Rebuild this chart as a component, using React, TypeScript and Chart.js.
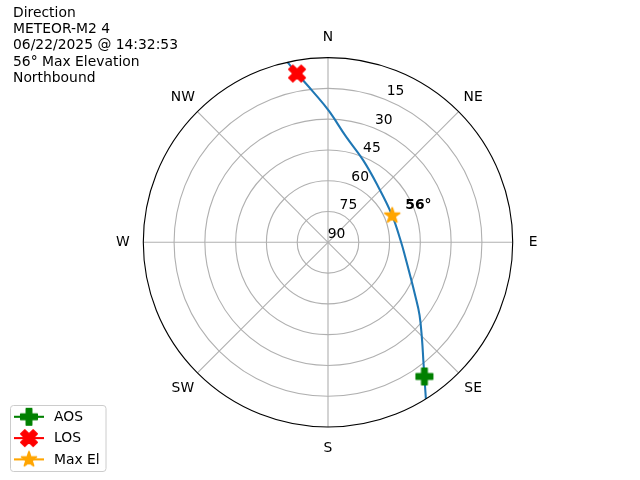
import React, { useEffect, useRef } from "react";
import { Chart, registerables } from "chart.js";
Chart.register(...registerables);

const titleLines = ["Direction", "METEOR-M2 4", "06/22/2025 @ 14:32:53", "56° Max Elevation", "Northbound"];
const compassLabels = ["N", "NE", "E", "SE", "S", "SW", "W", "NW"];
const compassAngles = [0, 45, 90, 135, 180, 225, 270, 315];
const ringZenith = [0, 15, 30, 45, 60, 75];
const ringLabels = ["90", "75", "60", "45", "30", "15"];

// pass track (azimuth deg, elevation deg), AOS side first
const trackAz = [148.0, 144.3, 141.0, 136.1, 128.5, 121.2, 111.7, 100.1, 89.8, 67.4, 42.1, 23.0, 9.7, 0.4, 354.3, 349.6, 347.3];
const trackEl = [0.0, 9.5, 16.2, 23.9, 33.0, 40.4, 47.0, 51.9, 54.4, 56.1, 53.5, 46.4, 37.8, 26.0, 16.2, 6.4, 0.0];

const aosAz = 144.3, aosEl = 9.5;
const losAz = 349.6, losEl = 6.4;
const maxAz = 67.4, maxEl = 56.1;
const maxElLabel = "56°";

const legendLabels = ["AOS", "LOS", "Max El"];
const legendColors = ["#008000", "#ff0000", "#ffa500"];

function toXY(az: number, el: number) {
  const r = 90 - el;
  const a = (az * Math.PI) / 180;
  return { x: r * Math.sin(a), y: r * Math.cos(a) };
}

const S = 16.67;
const EW = 1.39;

function makeMarker(kind: string, color: string) {
  const c = document.createElement("canvas");
  c.width = 24;
  c.height = 24;
  const ctx = c.getContext("2d")!;
  ctx.translate(12, 12);
  ctx.fillStyle = color;
  ctx.strokeStyle = color;
  ctx.lineWidth = EW;
  let pts: number[][] = [];
  if (kind === "plus") {
    const u = S / 6;
    pts = [[-1, -3], [1, -3], [1, -1], [3, -1], [3, 1], [1, 1], [1, 3], [-1, 3], [-1, 1], [-3, 1], [-3, -1], [-1, -1]].map((p) => [p[0] * u, p[1] * u]);
    ctx.lineJoin = "round";
  } else if (kind === "x") {
    const u = S / 4;
    pts = [[-1, -2], [0, -1], [1, -2], [2, -1], [1, 0], [2, 1], [1, 2], [0, 1], [-1, 2], [-2, 1], [-1, 0], [-2, -1]].map((p) => [p[0] * u, p[1] * u]);
    ctx.lineJoin = "round";
  } else {
    const R = S / 2;
    const ri = R * 0.381966;
    for (let i = 0; i < 10; i++) {
      const rr = i % 2 === 0 ? R : ri;
      const a = (i * Math.PI) / 5;
      pts.push([rr * Math.sin(a), -rr * Math.cos(a)]);
    }
    ctx.lineJoin = "bevel";
  }
  ctx.beginPath();
  pts.forEach((p, i) => (i === 0 ? ctx.moveTo(p[0], p[1]) : ctx.lineTo(p[0], p[1])));
  ctx.closePath();
  ctx.fill();
  ctx.stroke();
  return c;
}

const FONT = "'DejaVu Sans', sans-serif";
const FS = "13.89px";

export default function App() {
  const ref = useRef<HTMLCanvasElement>(null);
  useEffect(() => {
    const markers = [makeMarker("plus", legendColors[0]), makeMarker("x", legendColors[1]), makeMarker("star", legendColors[2])];
    const track = trackAz.map((az, i) => toXY(az, trackEl[i]));
    const pxPer = 184.7 / 90;
    const cxp = 328, cyp = 242.3;

    const polarPlugin = {
      id: "polar",
      beforeDatasetsDraw(chart: any) {
        const ctx = chart.ctx;
        const xs = chart.scales.x, ys = chart.scales.y;
        const cx = xs.getPixelForValue(0), cy = ys.getPixelForValue(0);
        const k = xs.getPixelForValue(90) - cx;
        const R = (v: number) => (v / 90) * k;
        ctx.save();
        ctx.strokeStyle = "#b0b0b0";
        ctx.lineWidth = 1.11;
        for (const z of ringZenith) {
          if (z === 0) continue;
          ctx.beginPath();
          ctx.arc(cx, cy, R(z), 0, Math.PI * 2);
          ctx.stroke();
        }
        for (const a of compassAngles) {
          const p = toXY(a, 0);
          ctx.beginPath();
          ctx.moveTo(cx, cy);
          ctx.lineTo(xs.getPixelForValue(p.x), ys.getPixelForValue(p.y));
          ctx.stroke();
        }
        ctx.fillStyle = "#000";
        ctx.font = `${FS} ${FONT}`;
        ctx.textAlign = "center";
        ctx.textBaseline = "middle";
        ringZenith.forEach((z, i) => {
          const p = toXY(22.5, 90 - z);
          ctx.fillText(ringLabels[i], xs.getPixelForValue(p.x) + 8.6, ys.getPixelForValue(p.y) - 8.3);
        });
        compassLabels.forEach((t, i) => {
          const p = toXY(compassAngles[i], -10);
          ctx.fillText(t, xs.getPixelForValue(p.x), ys.getPixelForValue(p.y) + 0.5);
        });
        ctx.restore();
      },
      afterDatasetsDraw(chart: any) {
        const ctx = chart.ctx;
        const xs = chart.scales.x, ys = chart.scales.y;
        const cx = xs.getPixelForValue(0), cy = ys.getPixelForValue(0);
        const k = xs.getPixelForValue(90) - cx;
        ctx.save();
        ctx.strokeStyle = "#000";
        ctx.lineWidth = 1.11;
        ctx.beginPath();
        ctx.arc(cx, cy, k, 0, Math.PI * 2);
        ctx.stroke();
        // max el annotation
        const m = toXY(maxAz, maxEl);
        ctx.fillStyle = "#000";
        ctx.font = `bold ${FS} ${FONT}`;
        ctx.textAlign = "left";
        ctx.textBaseline = "middle";
        ctx.fillText(maxElLabel, xs.getPixelForValue(m.x) + 13, ys.getPixelForValue(m.y) - 10.5);
        // title text
        ctx.font = `${FS} ${FONT}`;
        ctx.textBaseline = "alphabetic";
        titleLines.forEach((t, i) => ctx.fillText(t, 13, 16.8 + i * 16.3));
        // legend
        ctx.beginPath();
        ctx.roundRect(10.5, 405.5, 95.5, 66, 3);
        ctx.fillStyle = "rgba(255,255,255,0.8)";
        ctx.fill();
        ctx.strokeStyle = "#cccccc";
        ctx.lineWidth = 1;
        ctx.stroke();
        legendLabels.forEach((t, i) => {
          const y = 416.8 + i * 21.3;
          ctx.strokeStyle = legendColors[i];
          ctx.lineWidth = 2.08;
          ctx.beginPath();
          ctx.moveTo(14, y);
          ctx.lineTo(44, y);
          ctx.stroke();
          ctx.drawImage(markers[i], 29 - 12, y - 12);
          ctx.fillStyle = "#000";
          ctx.textBaseline = "middle";
          ctx.fillText(t, 54, y + 0.5);
        });
        ctx.restore();
      },
    };

    const chart = new Chart(ref.current!, {
      type: "scatter",
      data: {
        datasets: [
          { label: legendLabels[0], data: [toXY(aosAz, aosEl)], pointStyle: markers[0] as any, pointRadius: 8, borderColor: legendColors[0], backgroundColor: legendColors[0] },
          { label: legendLabels[1], data: [toXY(losAz, losEl)], pointStyle: markers[1] as any, pointRadius: 8, borderColor: legendColors[1], backgroundColor: legendColors[1] },
          { label: legendLabels[2], data: [toXY(maxAz, maxEl)], pointStyle: markers[2] as any, pointRadius: 8, borderColor: legendColors[2], backgroundColor: legendColors[2] },
          { label: "track", data: track, showLine: true, pointRadius: 0, borderColor: "#1f77b4", borderWidth: 2.08, tension: 0.4, fill: false },
        ],
      },
      options: {
        responsive: false,
        animation: false,
        layout: { padding: 0, autoPadding: false },
        plugins: { legend: { display: false }, tooltip: { enabled: false }, title: { display: false } },
        scales: {
          x: { type: "linear", display: false, min: -cxp / pxPer, max: (640 - cxp) / pxPer },
          y: { type: "linear", display: false, min: -(480 - cyp) / pxPer, max: cyp / pxPer },
        },
      },
      plugins: [polarPlugin],
    });
    return () => chart.destroy();
  }, []);
  return (
    <div style={{ position: "fixed", left: 0, top: 0, width: 640, height: 480, background: "#fff" }}>
      <canvas ref={ref} width={640} height={480} />
    </div>
  );
}
